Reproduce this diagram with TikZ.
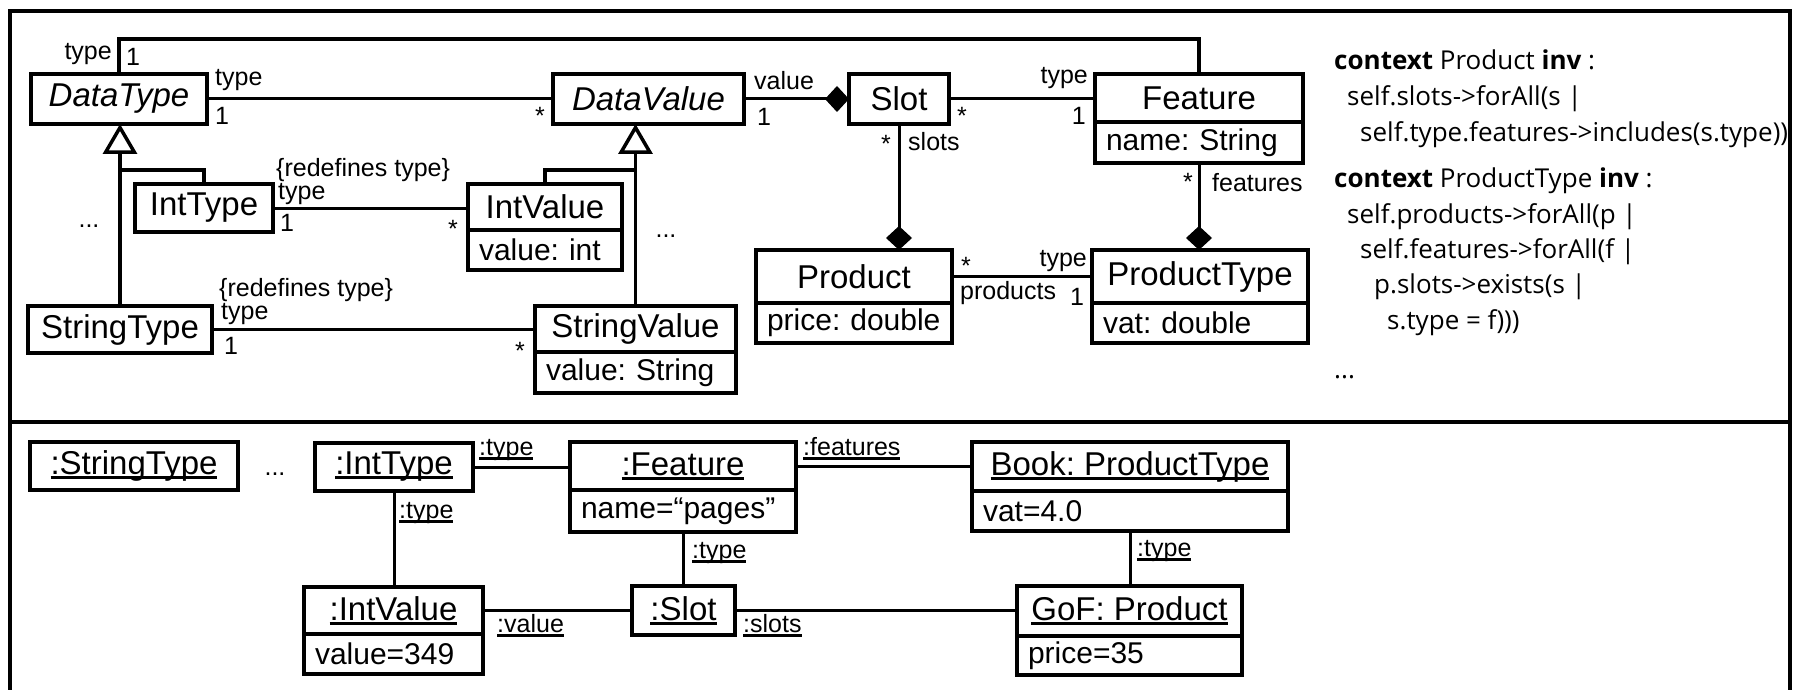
\documentclass[tikz,border=0pt]{standalone}
\usepackage{fontspec}
\setmainfont{Liberation Sans}
\newfontfamily\oclfont{Open Sans}
\usetikzlibrary{arrows.meta,calc}

% underlined object name with a heavier rule
\newcommand\objul[1]{\setbox0=\hbox{#1}\rlap{\vrule width\wd0 height -1.5pt depth 4.5pt}\box0}

\tikzset{
  namebox/.style={draw, line width=4.5pt, inner sep=0pt, outer sep=0pt, anchor=north west,
    font=\fontsize{33}{39}\selectfont},
  attrbox/.style={draw, line width=4.5pt, inner xsep=11pt, inner ysep=0pt, outer sep=0pt,
    anchor=north west, align=left, font=\fontsize{30}{36}\selectfont},
  assoc/.style={line width=3pt},
  toptype/.style={line width=4pt},
  genline/.style={line width=3.5pt, -{Triangle[open, length=30pt, width=34pt]}},
  genbranch/.style={line width=4pt},
  comp/.style={line width=3pt, -{Diamond[length=24pt, width=26pt]}},
  olink/.style={line width=3pt},
  lab/.style={inner sep=0pt, font=\fontsize{25}{30}\selectfont},
  ocl/.style={inner sep=0pt, anchor=base west, font=\oclfont\fontsize{26}{30}\selectfont},
  frame/.style={line width=4pt},
}

\begin{document}
\frenchspacing
\begin{tikzpicture}[x=1pt, y=-1pt]
\useasboundingbox (0,0) rectangle (1797,690);

% outer frame and divider
\draw[frame] (10,690) -- (10,11) -- (1790,11) -- (1790,690);
\draw[frame] (10,422) -- (1790,422);

% ---------- class diagram ----------
\node[namebox, minimum width=176pt, minimum height=50pt] (dt) at (31,74) {\itshape DataType};
\node[namebox, minimum width=191pt, minimum height=50pt] (dv) at (553,74) {\itshape DataValue};
\node[namebox, minimum width=100pt, minimum height=50pt] (slot) at (849,74) {Slot};
\node[namebox, minimum width=208pt, minimum height=48pt] (feat) at (1095,74) {Feature};
\node[attrbox, text width=186pt, minimum height=41pt] (featA) at (feat.south west) {\mbox{name: String}};

\node[namebox, minimum width=138pt, minimum height=48pt] (it) at (135,184) {IntType};
\node[namebox, minimum width=154pt, minimum height=46pt] (iv) at (468,184) {IntValue};
\node[attrbox, text width=132pt, minimum height=40pt] (ivA) at (iv.south west) {\mbox{value: int}};

\node[namebox, minimum width=184pt, minimum height=47pt] (st) at (28,306) {StringType};
\node[namebox, minimum width=201pt, minimum height=46pt] (sv) at (535,306) {StringValue};
\node[attrbox, text width=179pt, minimum height=41pt] (svA) at (sv.south west) {\mbox{value: String}};

\node[namebox, minimum width=196pt, minimum height=53pt] (prod) at (756,250) {Product};
\node[attrbox, text width=174pt, minimum height=40pt] (prodA) at (prod.south west) {\mbox{price: double}};
\node[namebox, minimum width=216pt, minimum height=53pt] (pt) at (1092,250) {ProductType};
\node[attrbox, text width=194pt, minimum height=40pt] (ptA) at (pt.south west) {\mbox{vat: double}};

% associations
\draw[toptype] (dt.north) -- ++(0,-35) -| (feat.north);
\draw[assoc] (dt.east) -- (dv.west);
\draw[comp] (dv.east) -- (slot.west);
\draw[assoc] (slot.east) -- (slot.east -| feat.west);
\draw[comp] (slot.south) -- (slot.south |- prod.north);
\draw[comp] (featA.south) -- (featA.south |- pt.north);
\draw[assoc] (prod.east) -- (prod.east -| pt.west);
\draw[assoc] (it.east) -- (it.east -| iv.west);
\draw[assoc] (st.east) -- (st.east -| sv.west);

% generalizations
\draw[genline] (st.north) -- (st.north |- dt.south);
\draw[genbranch] (it.north) -- ++(0,-14) -| ($(st.north |- dt.south)+(0,46)$);
\draw[genline] (sv.north) -- (sv.north |- dv.south);
\draw[genbranch] (iv.north) -- ++(0,-14) -| ($(sv.north |- dv.south)+(0,46)$);

% association ends
\node[lab, anchor=base east] (l01) at (112,60) {type};
\node[lab, anchor=base west] (l02) at (126,66) {1};
\node[lab, anchor=base west] (l03) at (215,86) {type};
\node[lab, anchor=base west] (l04) at (215,125) {1};
\node[lab, anchor=base east] (l05) at (545,125) {*};
\node[lab, anchor=base west] (l06) at (754,90) {value};
\node[lab, anchor=base west] (l07) at (757,126) {1};
\node[lab, anchor=base west] (l08) at (957,125) {*};
\node[lab, anchor=base east] (l09) at (1088,84) {type};
\node[lab, anchor=base east] (l10) at (1086,125) {1};
\node[lab, anchor=base east] (l11) at (891,153) {*};
\node[lab, anchor=base west] (l12) at (908,151) {slots};
\node[lab, anchor=base east] (l13) at (1193,190) {*};
\node[lab, anchor=base west] (l14) at (1212,192) {features};
\node[lab, anchor=base west] (l15) at (961,274) {*};
\node[lab, anchor=base east] (l16) at (1087,266) {type};
\node[lab, anchor=base west] (l17) at (960,299) {products};
\node[lab, anchor=base west] (l18) at (1070,305) {1};
\node[lab, anchor=base west] (l19) at (276,176) {\{redefines type\}};
\node[lab, anchor=base west] (l20) at (278,199) {type};
\node[lab, anchor=base west] (l21) at (280,231) {1};
\node[lab, anchor=base east] (l22) at (458,237) {*};
\node[lab, anchor=base west] (l23) at (219,296) {\{redefines type\}};
\node[lab, anchor=base west] (l24) at (221,319) {type};
\node[lab, anchor=base west] (l25) at (224,354) {1};
\node[lab, anchor=base east] (l26) at (525,359) {*};
\node[lab, anchor=base] (l27) at (89,227) {...};
\node[lab, anchor=base] (l28) at (666,237) {...};

% OCL constraints
\node[ocl] (c1) at (1334,70) {\textbf{context} Product \textbf{inv} :};
\node[ocl] (c2) at (1347,106) {self.slots->forAll(s |};
\node[ocl] (c3) at (1360,142) {self.type.features->includes(s.type))};
\node[ocl] (c4) at (1334,188) {\textbf{context} ProductType \textbf{inv} :};
\node[ocl] (c5) at (1347,223) {self.products->forAll(p |};
\node[ocl] (c6) at (1360,258) {self.features->forAll(f |};
\node[ocl] (c7) at (1374,293) {p.slots->exists(s |};
\node[ocl] (c8) at (1387,329) {s.type = f)))};
\node[ocl] (c9) at (1334,378) {...};

% ---------- object diagram ----------
\node[namebox, minimum width=208pt, minimum height=48pt] (ost) at (30,442) {\objul{:StringType}};
\node[lab, anchor=base] (o0) at (275,475) {...};
\node[namebox, minimum width=158pt, minimum height=48pt] (oit) at (315,443) {\objul{:IntType}};
\node[namebox, minimum width=226pt, minimum height=48pt] (ofe) at (570,442) {\objul{:Feature}};
\node[attrbox, text width=204pt, minimum height=42pt] (ofeA) at (ofe.south west) {\mbox{name=“pages”}};
\node[namebox, minimum width=316pt, minimum height=49pt] (obk) at (972,442) {\objul{Book: ProductType}};
\node[attrbox, text width=294pt, minimum height=40pt] (obkA) at (obk.south west) {\mbox{vat=4.0}};
\node[namebox, minimum width=179pt, minimum height=47pt] (oiv) at (304,587) {\objul{:IntValue}};
\node[attrbox, text width=157pt, minimum height=40pt] (oivA) at (oiv.south west) {\mbox{value=349}};
\node[namebox, minimum width=103pt, minimum height=49pt] (osl) at (632,586) {\objul{:Slot}};
\node[namebox, minimum width=225pt, minimum height=50pt] (ogof) at (1017,586) {\objul{GoF: Product}};
\node[attrbox, text width=203pt, minimum height=39pt] (ogofA) at (ogof.south west) {\mbox{price=35}};

% links
\draw[olink] (oit.east) -- (oit.east -| ofe.west);
\draw[olink] (oit.south) -- (oit.south |- oiv.north);
\draw[olink] (oiv.east) -- (oiv.east -| osl.west);
\draw[olink] (ofeA.south) -- (ofeA.south |- osl.north);
\draw[olink] (ofe.east) -- (ofe.east -| obk.west);
\draw[olink] (osl.east) -- (osl.east -| ogof.west);
\draw[olink] (obkA.south) -- (obkA.south |- ogof.north);

\node[lab, anchor=base west] (o1) at (479,455) {\objul{:type}};
\node[lab, anchor=base west] (o2) at (399,518) {\objul{:type}};
\node[lab, anchor=base west] (o3) at (497,632) {\objul{:value}};
\node[lab, anchor=base west] (o4) at (692,558) {\objul{:type}};
\node[lab, anchor=base west] (o5) at (803,455) {\objul{:features}};
\node[lab, anchor=base west] (o6) at (743,632) {\objul{:slots}};
\node[lab, anchor=base west] (o7) at (1137,556) {\objul{:type}};
\end{tikzpicture}
\end{document}
